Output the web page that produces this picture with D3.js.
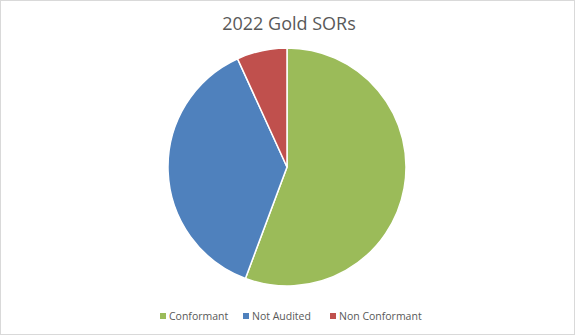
<!DOCTYPE html>
<html><head><meta charset="utf-8">
<script src="https://cdn.jsdelivr.net/npm/d3@7"></script>
<style>body{margin:0;background:#fff}svg{display:block}</style>
</head><body>
<script>
const title = "2022 Gold SORs";
const categories = ["Conformant", "Not Audited", "Non Conformant"];
const values = [49, 33, 6];
const colors = ["#9BBB59", "#4F81BD", "#C0504D"];

const W = 575, H = 335;
const svg = d3.select("body").append("svg").attr("width", W).attr("height", H);
svg.append("rect").attr("x", 0.5).attr("y", 0.5).attr("width", W - 1).attr("height", H - 1)
  .attr("fill", "#fff").attr("stroke", "#d9d9d9");

svg.append("text").attr("x", 289).attr("y", 30).attr("text-anchor", "middle")
  .attr("font-family", "'Open Sans', 'Liberation Sans', sans-serif").attr("font-size", 18)
  .attr("fill", "#595959").text(title);

const cx = 287, cy = 167, r = 119;
const pie = d3.pie().sort(null).value(d => d)(values);
const arc = d3.arc().innerRadius(0).outerRadius(r);
const g = svg.append("g").attr("transform", `translate(${cx},${cy})`);
g.selectAll("path").data(pie).join("path")
  .attr("d", arc).attr("fill", (d, i) => colors[i])
  .attr("stroke", "#fff").attr("stroke-width", 1.5);

const legendX = [160, 243, 330];
const lg = svg.append("g").attr("font-family", "'Open Sans', 'Liberation Sans', sans-serif")
  .attr("font-size", 10.5).attr("fill", "#595959");
categories.forEach((c, i) => {
  lg.append("rect").attr("x", legendX[i]).attr("y", 313).attr("width", 6).attr("height", 6).attr("fill", colors[i]);
  lg.append("text").attr("x", legendX[i] + 9).attr("y", 320).text(c);
});
</script>
</body></html>
